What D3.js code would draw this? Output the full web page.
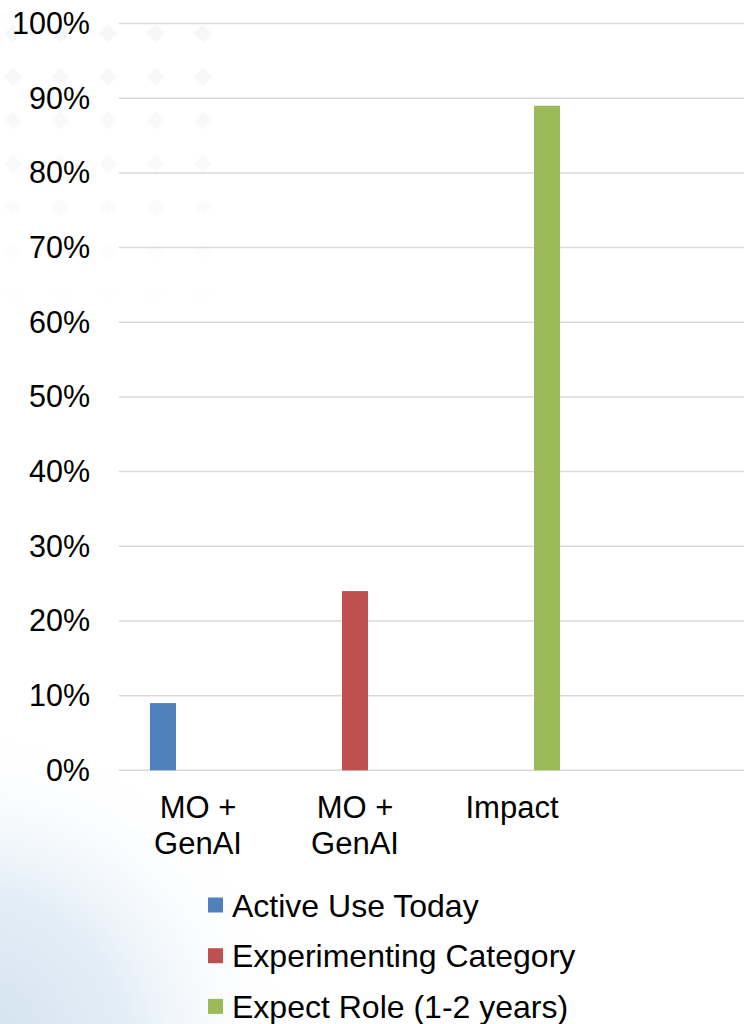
<!DOCTYPE html>
<html lang="en">
<head>
    <meta charset="UTF-8">
    <script src="https://cdnjs.cloudflare.com/ajax/libs/d3/7.8.5/d3.min.js"></script>
    <style>
        html, body {margin: 0; padding: 0; background: #fff;}
        svg {display: block; font-family: "Liberation Sans", Arial, sans-serif;}
    </style>
</head>
<body>
<div id="chart"></div>

<script>
    // chart data
    var categories = ["MO + GenAI", "MO + GenAI", "Impact", ""];
    var seriesNames = ["Active Use Today", "Experimenting Category", "Expect Role (1-2 years)"];
    var seriesColors = ["#4f81bd", "#c0504d", "#9bbb59"];
    var activeUse = [9, null, null, null];
    var experimenting = [null, 24, null, null];
    var expectRole = [null, null, 89, null];
    var yTicks = [0, 10, 20, 30, 40, 50, 60, 70, 80, 90, 100];

    var width = 744, height = 1024;
    var fontSize = 30.5;

    var svg = d3.select("#chart")
        .append("svg")
        .attr("width", width)
        .attr("height", height);

    // background: pale blue swoosh bottom-left + faint diamond pattern top-left
    var defs = svg.append("defs");
    var grad = defs.append("radialGradient")
        .attr("id", "swoosh")
        .attr("gradientUnits", "userSpaceOnUse")
        .attr("cx", -40).attr("cy", 1060)
        .attr("r", 340);
    grad.append("stop").attr("offset", "0%").attr("stop-color", "#cfe0ee");
    grad.append("stop").attr("offset", "50%").attr("stop-color", "#e3edf6");
    grad.append("stop").attr("offset", "100%").attr("stop-color", "#ffffff").attr("stop-opacity", 0);

    svg.append("rect")
        .attr("x", 0).attr("y", 700)
        .attr("width", 340).attr("height", 324)
        .attr("fill", "url(#swoosh)");

    var bgRows = d3.range(0, 9), bgCols = d3.range(0, 5);
    bgRows.forEach(function (r) {
        bgCols.forEach(function (c) {
            var cx = 13 + c * 47.5, cy = -10 + r * 43.5;
            svg.append("path")
                .attr("d", "M" + cx + "," + (cy - 9) + "L" + (cx + 9) + "," + cy +
                    "L" + cx + "," + (cy + 9) + "L" + (cx - 9) + "," + cy + "Z")
                .attr("fill", "#f2f3f5")
                .attr("opacity", Math.max(0, 0.8 - r * 0.1));
        });
    });

    // scales
    var x0 = d3.scaleBand()
        .domain(d3.range(categories.length))
        .range([119.5, 747.5])
        .paddingInner(0)
        .paddingOuter(0);

    var x1 = d3.scaleBand()
        .domain(d3.range(seriesNames.length))
        .range([0, x0.bandwidth()])
        .paddingInner(0.257)
        .paddingOuter(0.871);

    var y = d3.scaleLinear()
        .domain([0, 100])
        .range([770.3, 23.6]);

    // gridlines
    svg.append("g")
        .selectAll("line")
        .data(yTicks)
        .enter()
        .append("line")
        .attr("x1", 119)
        .attr("x2", width)
        .attr("y1", function (d) {return y(d);})
        .attr("y2", function (d) {return y(d);})
        .attr("stroke", "#d9d9d9")
        .attr("stroke-width", 1.5);

    // y axis labels
    var yAxis = d3.axisLeft(y)
        .tickValues(yTicks)
        .tickFormat(function (d) {return d + "%";})
        .tickSize(0)
        .tickPadding(0);

    var yg = svg.append("g")
        .attr("transform", "translate(90,0)")
        .call(yAxis);
    yg.select(".domain").remove();
    yg.selectAll("text")
        .attr("font-size", fontSize)
        .attr("font-family", "Liberation Sans, Arial, sans-serif")
        .attr("fill", "#000");

    // bars
    var allSeries = [activeUse, experimenting, expectRole];
    allSeries.forEach(function (values, s) {
        svg.append("g")
            .selectAll("rect")
            .data(values.map(function (v, i) {return {v: v, i: i};}))
            .enter()
            .filter(function (d) {return d.v !== null;})
            .append("rect")
            .attr("x", function (d) {return x0(d.i) + x1(s);})
            .attr("y", function (d) {return y(d.v);})
            .attr("width", x1.bandwidth())
            .attr("height", function (d) {return y(0) - y(d.v);})
            .attr("fill", seriesColors[s]);
    });

    // x axis labels (wrapped)
    var xAxis = d3.axisBottom(x0)
        .tickFormat(function (i) {return categories[i];})
        .tickSize(0)
        .tickPadding(0);

    var xg = svg.append("g")
        .attr("transform", "translate(0,794)")
        .call(xAxis);
    xg.select(".domain").remove();
    xg.selectAll("text")
        .attr("font-size", fontSize + 0.5)
        .attr("font-family", "Liberation Sans, Arial, sans-serif")
        .attr("fill", "#000")
        .attr("dy", null)
        .attr("y", 0)
        .call(wrap, 140);

    function wrap(texts, maxWidth) {
        texts.each(function () {
            var text = d3.select(this);
            var words = text.text().split(/\s+/).filter(function (w) {return w.length;});
            text.text(null);
            var line = [];
            var lineNo = 0;
            var tspan = text.append("tspan").attr("x", 0).attr("y", 24);
            words.forEach(function (word) {
                line.push(word);
                tspan.text(line.join(" "));
                if (tspan.node().getComputedTextLength() > maxWidth && line.length > 1) {
                    line.pop();
                    tspan.text(line.join(" "));
                    line = [word];
                    lineNo++;
                    tspan = text.append("tspan")
                        .attr("x", 0)
                        .attr("y", 24 + lineNo * 35.5)
                        .text(word);
                }
            });
        });
    }

    // legend
    var legend = svg.append("g")
        .attr("transform", "translate(208,905)");

    var items = legend.selectAll("g")
        .data(seriesNames)
        .enter()
        .append("g")
        .attr("transform", function (d, i) {return "translate(0," + (i * 50.7) + ")";});

    items.append("rect")
        .attr("x", 0)
        .attr("y", -7.5)
        .attr("width", 15)
        .attr("height", 15)
        .attr("fill", function (d, i) {return seriesColors[i];});

    items.append("text")
        .attr("x", 24)
        .attr("y", 0)
        .attr("dy", "0.36em")
        .attr("font-size", 32)
        .attr("fill", "#000")
        .text(function (d) {return d;});
</script>
</body>
</html>
